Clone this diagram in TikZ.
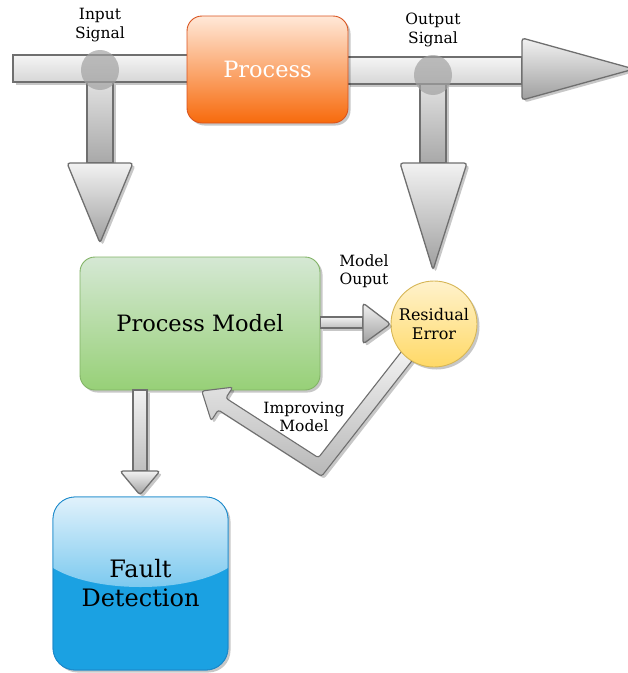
\documentclass[tikz,border=0pt]{standalone}
\usepackage{fontspec}
\setmainfont{DejaVu Serif}
\usetikzlibrary{shadows,calc}
\definecolor{arrowline}{HTML}{6F6F6F}
\definecolor{procTop}{HTML}{FFE8D8}
\definecolor{procBot}{HTML}{F76A0C}
\definecolor{procLine}{HTML}{D9531E}
\definecolor{pmTop}{HTML}{D5E8D4}
\definecolor{pmBot}{HTML}{97D077}
\definecolor{pmLine}{HTML}{82B366}
\definecolor{reTop}{HTML}{FFF2CC}
\definecolor{reBot}{HTML}{FFD966}
\definecolor{reLine}{HTML}{D6B656}
\definecolor{fdBlue}{HTML}{1BA1E2}
\definecolor{fdTop}{HTML}{E4F3FC}
\definecolor{fdMid}{HTML}{74C6EE}
\definecolor{fdLine}{HTML}{1C8ACB}
\definecolor{junc}{HTML}{A2A2A2}
\tikzset{
  x=1pt, y=-1pt,
  softshadow/.style={drop shadow={shadow xshift=2.5pt, shadow yshift=-2.5pt, opacity=0.22, fill=black}},
  barshape/.style={draw=arrowline, line width=1.1pt, top color=white!96!black, bottom color=black!16, softshadow},
  headshape/.style={draw=arrowline, line width=1.3pt, rounded corners=3pt, top color=white!95!black, bottom color=black!38, softshadow},
  shaftshape/.style={draw=arrowline, line width=1.1pt, top color=black!12, bottom color=black!34},
  junction/.style={ellipse, fill=junc, opacity=0.7, minimum width=38pt, minimum height=40pt, inner sep=0pt},
  lbl/.style={font=\fontsize{15.5}{18.5}\selectfont, align=center, text=black, inner sep=0pt},
}
\usetikzlibrary{shapes.geometric}
\begin{document}
\begin{tikzpicture}
\useasboundingbox (0,0) rectangle (628,673);

% ---------- top bars ----------
\draw[barshape] (13,55) rectangle (188,82);
\draw[barshape] (347,57) rectangle (522,84);
\draw[headshape] (522,38) -- (634,69) -- (522,100) -- cycle;

% ---------- vertical pipes ----------
\draw[shaftshape, softshadow] (87,82) rectangle (113,163);
\draw[shaftshape, softshadow] (420,84) rectangle (446,163);
\node[junction] (inj) at (100,70) {};
\node[junction] (outj) at (433,75) {};
\draw[headshape] (67,163) -- (133,163) -- (100,243) -- cycle;
\draw[headshape] (400,163) -- (467,163) -- (433,270) -- cycle;

% ---------- process ----------
\node[draw=procLine, line width=0.9pt, rounded corners=15pt, minimum width=161pt, minimum height=107pt,
      top color=procTop, bottom color=procBot, softshadow,
      font=\fontsize{22.5}{26}\selectfont, text=white] (proc) at (267.5,69.5) {Process};

\node[lbl] (inlbl) at (100,25) {Input\\Signal};
\node[lbl] (outlbl) at (433,30) {Output\\Signal};

% ---------- process model ----------
\node[draw=pmLine, line width=0.9pt, rounded corners=15pt, minimum width=240pt, minimum height=133pt,
      top color=pmTop, bottom color=pmBot, softshadow,
      font=\fontsize{22.5}{27}\selectfont, text=black] (pm) at (200,323.5) {Process Model};

% ---------- improving model arrow ----------
\draw[draw=arrowline, line width=1.1pt, rounded corners=2.5pt, top color=white!95!black, bottom color=black!28, softshadow]
  (404.5,347.7) -- (415.5,356.3) -- (321.6,476.3) -- (218.2,409.9) -- (211.2,420.8)
  -- (201.8,391) -- (232.8,387.2) -- (225.8,398.1) -- (318.4,457.7) -- cycle;

% ---------- residual error ----------
\node[circle, draw=reLine, line width=0.9pt, minimum size=86pt, inner sep=0pt,
      top color=reTop, bottom color=reBot, softshadow,
      font=\fontsize{16}{19}\selectfont, align=center, text=black] (re) at (434,324) {Residual\\Error};

% ---------- model output arrow ----------
\draw[shaftshape, softshadow, top color=white!95!black, bottom color=black!25] (pm.east |- 0,317) rectangle (363,328);
\draw[headshape] (363,303) -- (re.west) -- (363,344) -- cycle;
\node[lbl] (molbl) at (364,271) {Model\\Ouput};
\node[lbl] (imlbl) at (304,417) {Improving\\Model};

% ---------- down arrow to fault detection ----------
\draw[shaftshape, softshadow, top color=white!95!black, bottom color=black!25] (133,390) rectangle (147,471);
\draw[headshape] (120,471) -- (160,471) -- (140,495) -- cycle;

% ---------- fault detection ----------
\node[draw=fdLine, line width=0.8pt, rounded corners=22pt, minimum width=175pt, minimum height=173pt,
      fill=fdBlue, softshadow] (fd) at (140.5,583.5) {};
\begin{scope}
  \clip[rounded corners=22pt] (53,497) rectangle (228,670);
  \shade[top color=fdTop, bottom color=fdMid] (50,494) -- (231,494) -- (231,566) .. controls (190,594) and (91,594) .. (50,566) -- cycle;
\end{scope}
\draw[fdLine, line width=0.8pt, rounded corners=22pt] (53,497) rectangle (228,670);
\node[font=\fontsize{24}{29}\selectfont, align=center, text=black] (fdtext) at (fd.center) {Fault\\Detection};

\end{tikzpicture}
\end{document}
